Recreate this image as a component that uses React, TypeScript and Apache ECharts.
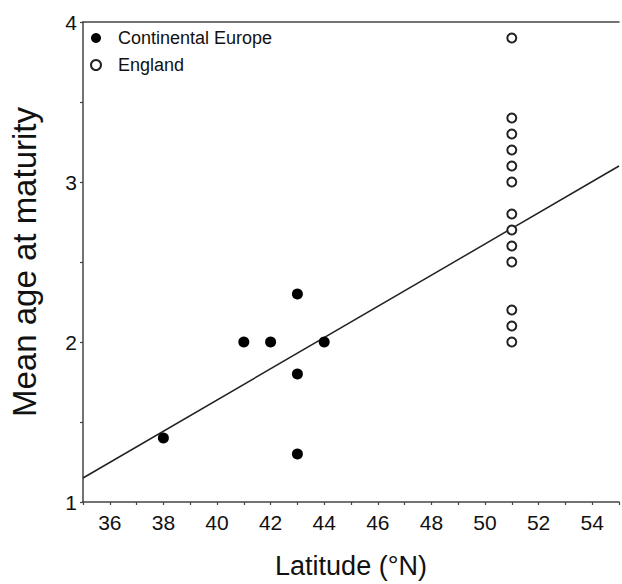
import React, { useEffect, useRef } from "react";
import * as echarts from "echarts";

const continentalEurope: [number, number][] = [
  [38, 1.4],
  [41, 2.0],
  [42, 2.0],
  [43, 2.3],
  [43, 1.8],
  [43, 1.3],
  [44, 2.0],
];

const englandLat = 51;
const englandAges = [3.9, 3.4, 3.3, 3.2, 3.1, 3.0, 2.8, 2.7, 2.6, 2.5, 2.2, 2.1, 2.0];

const regressionLine: [number, number][] = [
  [35, 1.15],
  [55, 3.1],
];

const xTickLabels = [36, 38, 40, 42, 44, 46, 48, 50, 52, 54];
const yTickLabels = [1, 2, 3, 4];

const FONT = "Liberation Sans, Arial, sans-serif";

export default function App() {
  const ref = useRef<HTMLDivElement>(null);
  useEffect(() => {
    if (!ref.current) return;
    const chart = echarts.init(ref.current, undefined, { renderer: "svg" });
    chart.setOption({
      animation: false,
      backgroundColor: "#fff",
      grid: { left: 76, right: 0, top: 22, bottom: 82 },
      legend: {
        orient: "vertical",
        left: 85,
        top: 24,
        itemWidth: 10,
        itemHeight: 10,
        itemGap: 9,
        textStyle: { fontFamily: FONT, fontSize: 18, color: "#111", padding: [0, 0, 0, 12] },
        data: ["Continental Europe", "England"],
      },
      xAxis: [
        {
          type: "value",
          min: 35,
          max: 55,
          interval: 1,
          name: "Latitude (°N)",
          nameLocation: "middle",
          nameGap: 50,
          nameTextStyle: { fontFamily: FONT, fontSize: 27, color: "#111" },
          axisLine: { show: true, lineStyle: { color: "#444", width: 1.5 } },
          axisTick: { show: true, length: 3, lineStyle: { color: "#444", width: 1.2 } },
          axisLabel: {
            margin: 10,
            fontFamily: FONT,
            fontSize: 21,
            color: "#111",
            formatter: (v: number) => (xTickLabels.includes(v) ? String(v) : ""),
          },
          splitLine: { show: false },
        },
        {
          type: "value",
          position: "top",
          min: 35,
          max: 55,
          axisLine: { show: true, lineStyle: { color: "#444", width: 1.5 } },
          axisTick: { show: false },
          axisLabel: { show: false },
          splitLine: { show: false },
        },
      ],
      yAxis: {
        type: "value",
        min: 1,
        max: 4,
        interval: 0.5,
        name: "Mean age at maturity",
        nameLocation: "middle",
        nameGap: 42,
        nameTextStyle: { fontFamily: FONT, fontSize: 33, color: "#111" },
        axisLine: { show: true, lineStyle: { color: "#444", width: 1.5 } },
        axisTick: { show: true, length: 3, lineStyle: { color: "#444", width: 1.2 } },
        axisLabel: {
          margin: 6,
          fontFamily: FONT,
          fontSize: 21,
          color: "#111",
          formatter: (v: number) => (yTickLabels.includes(v) ? String(v) : ""),
        },
        splitLine: { show: false },
      },
      series: [
        {
          name: "Regression",
          type: "line",
          data: regressionLine,
          symbol: "none",
          lineStyle: { color: "#222", width: 1.5 },
          silent: true,
          z: 1,
        },
        {
          name: "Continental Europe",
          type: "scatter",
          data: continentalEurope,
          symbol: "circle",
          symbolSize: 11,
          itemStyle: { color: "#000", opacity: 1 },
          z: 3,
        },
        {
          name: "England",
          type: "scatter",
          data: englandAges.map((a) => [englandLat, a]),
          symbol: "circle",
          symbolSize: 9,
          itemStyle: { color: "#fff", borderColor: "#222", borderWidth: 2, opacity: 1 },
          z: 3,
        },
      ],
    });
    return () => chart.dispose();
  }, []);
  return <div ref={ref} style={{ width: 622, height: 584, position: "absolute", left: 0, top: 0 }} />;
}
